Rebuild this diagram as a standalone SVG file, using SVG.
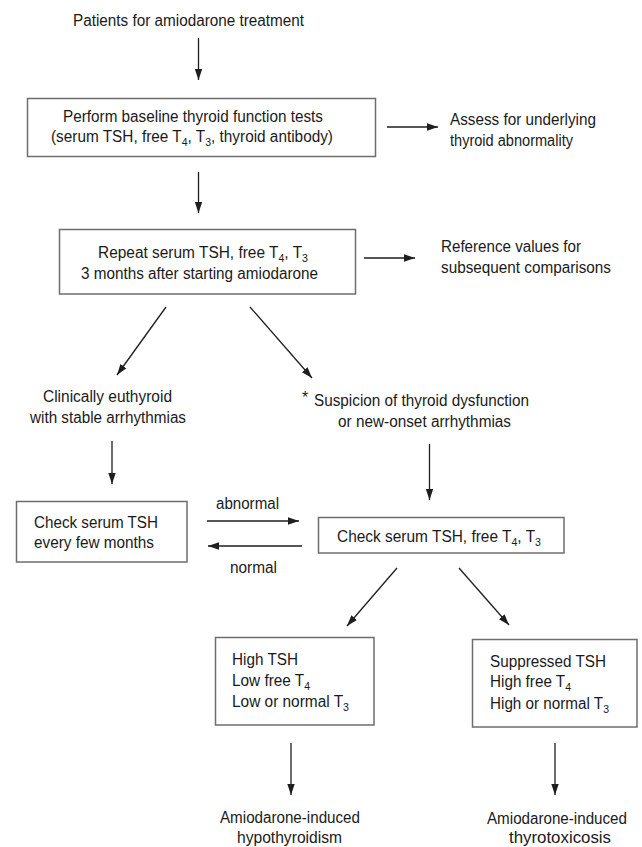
<svg xmlns="http://www.w3.org/2000/svg" width="642" height="847" viewBox="0 0 642 847">
<style>
text{font-family:"Liberation Sans",Arial,Helvetica,sans-serif;font-size:16px;fill:#1a1a1a}
.sub{font-size:11px}
.box{fill:#fff;stroke:#6e6e6e;stroke-width:1.5}
.ln{stroke:#1e1e1e;stroke-width:1.3;fill:none;marker-end:url(#ah)}
</style>
<defs>
<marker id="ah" markerUnits="userSpaceOnUse" markerWidth="12" markerHeight="10" viewBox="0 0 12 10" refX="11" refY="5" orient="auto">
<path d="M0,1.3 L11,5 L0,8.7 Z" fill="#1e1e1e"/>
</marker>
</defs>
<rect width="642" height="847" fill="#fff"/>
<g id="connectors">
<line class="ln" x1="198.5" y1="38" x2="198.5" y2="80"/>
<line class="ln" x1="387" y1="127" x2="438" y2="127"/>
<line class="ln" x1="198.5" y1="172" x2="198.5" y2="213"/>
<line class="ln" x1="364" y1="258" x2="415" y2="258"/>
<line class="ln" x1="166" y1="307" x2="117" y2="375"/>
<line class="ln" x1="250" y1="307" x2="312" y2="378"/>
<line class="ln" x1="112" y1="441" x2="112" y2="484"/>
<line class="ln" x1="429.5" y1="444" x2="429.5" y2="500"/>
<line class="ln" x1="207" y1="521" x2="299" y2="521"/>
<line class="ln" x1="302" y1="546" x2="208" y2="546"/>
<line class="ln" x1="397" y1="568" x2="347" y2="626"/>
<line class="ln" x1="459" y1="568" x2="509" y2="625"/>
<line class="ln" x1="291" y1="743" x2="291" y2="795"/>
<line class="ln" x1="555" y1="743" x2="555" y2="795"/>
<text x="216" y="509" textLength="63" lengthAdjust="spacingAndGlyphs">abnormal</text>
<text x="230" y="573" textLength="47" lengthAdjust="spacingAndGlyphs">normal</text>
</g>
<g id="start">
<text x="73" y="26" textLength="231" lengthAdjust="spacingAndGlyphs">Patients for amiodarone treatment</text>
</g>
<g id="baseline-tests">
<rect class="box" x="27.5" y="98.5" width="348" height="58"/>
<text x="63" y="122" textLength="260" lengthAdjust="spacingAndGlyphs">Perform baseline thyroid function tests</text>
<text x="51" y="142" textLength="282" lengthAdjust="spacingAndGlyphs">(serum TSH, free T<tspan class="sub" dy="4">4</tspan><tspan dy="-4">, T</tspan><tspan class="sub" dy="4">3</tspan><tspan dy="-4">, thyroid antibody)</tspan></text>
</g>
<g id="assess">
<text x="450" y="125" textLength="146" lengthAdjust="spacingAndGlyphs">Assess for underlying</text>
<text x="450" y="146" textLength="123" lengthAdjust="spacingAndGlyphs">thyroid abnormality</text>
</g>
<g id="repeat">
<rect class="box" x="59.5" y="229.5" width="296" height="64.5"/>
<text x="98" y="258" textLength="210" lengthAdjust="spacingAndGlyphs">Repeat serum TSH, free T<tspan class="sub" dy="4">4</tspan><tspan dy="-4">, T</tspan><tspan class="sub" dy="4">3</tspan></text>
<text x="81" y="279" textLength="237" lengthAdjust="spacingAndGlyphs">3 months after starting amiodarone</text>
</g>
<g id="reference">
<text x="441" y="252" textLength="140" lengthAdjust="spacingAndGlyphs">Reference values for</text>
<text x="441" y="273" textLength="170" lengthAdjust="spacingAndGlyphs">subsequent comparisons</text>
</g>
<g id="euthyroid">
<text x="43" y="402" textLength="129" lengthAdjust="spacingAndGlyphs">Clinically euthyroid</text>
<text x="30" y="423" textLength="156" lengthAdjust="spacingAndGlyphs">with stable arrhythmias</text>
</g>
<g id="suspicion">
<text x="302" y="403" font-size="15">*</text>
<text x="314" y="406" textLength="215" lengthAdjust="spacingAndGlyphs">Suspicion of thyroid dysfunction</text>
<text x="338" y="427" textLength="173" lengthAdjust="spacingAndGlyphs">or new-onset arrhythmias</text>
</g>
<g id="check-tsh">
<rect class="box" x="16.5" y="501.5" width="170.5" height="60.5"/>
<text x="34" y="528" textLength="124" lengthAdjust="spacingAndGlyphs">Check serum TSH</text>
<text x="34" y="548" textLength="120" lengthAdjust="spacingAndGlyphs">every few months</text>
</g>
<g id="check-full">
<rect class="box" x="318.5" y="517.5" width="245.5" height="35.5"/>
<text x="337" y="542" textLength="204" lengthAdjust="spacingAndGlyphs">Check serum TSH, free T<tspan class="sub" dy="4">4</tspan><tspan dy="-4">, T</tspan><tspan class="sub" dy="4">3</tspan></text>
</g>
<g id="hypo-labs">
<rect class="box" x="215.5" y="637.5" width="158.5" height="87.5"/>
<text x="232" y="665" textLength="66" lengthAdjust="spacingAndGlyphs">High TSH</text>
<text x="232" y="686" textLength="78" lengthAdjust="spacingAndGlyphs">Low free T<tspan class="sub" dy="4">4</tspan></text>
<text x="232" y="707" textLength="117" lengthAdjust="spacingAndGlyphs">Low or normal T<tspan class="sub" dy="4">3</tspan></text>
</g>
<g id="thyro-labs">
<rect class="box" x="472.5" y="639.5" width="164.5" height="87.5"/>
<text x="490" y="667" textLength="116" lengthAdjust="spacingAndGlyphs">Suppressed TSH</text>
<text x="490" y="687" textLength="81" lengthAdjust="spacingAndGlyphs">High free T<tspan class="sub" dy="4">4</tspan></text>
<text x="490" y="709" textLength="119" lengthAdjust="spacingAndGlyphs">High or normal T<tspan class="sub" dy="4">3</tspan></text>
</g>
<g id="hypothyroidism">
<text x="220" y="823" textLength="140" lengthAdjust="spacingAndGlyphs">Amiodarone-induced</text>
<text x="237" y="843" textLength="105" lengthAdjust="spacingAndGlyphs">hypothyroidism</text>
</g>
<g id="thyrotoxicosis">
<text x="487" y="824" textLength="140" lengthAdjust="spacingAndGlyphs">Amiodarone-induced</text>
<text x="509" y="843" textLength="102" lengthAdjust="spacingAndGlyphs">thyrotoxicosis</text>
</g>
</svg>
